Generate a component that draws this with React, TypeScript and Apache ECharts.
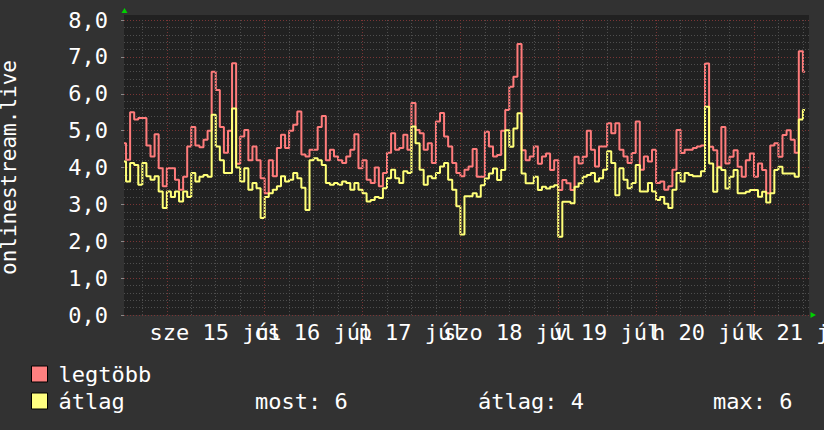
import React, { useEffect, useRef } from 'react';
import * as echarts from 'echarts';

// hourly samples, starting 13:30 on Tue 14 Jul
const maxValues = [
  4.66, 4.21, 5.5, 5.3, 5.34, 5.34, 4.6, 4.3, 4.9, 3.98, 3.49, 3.98,
  3.98, 3.67, 3.4, 3.75, 4.57, 5.1, 4.6, 4.55, 4.75, 5.0, 6.6, 6.1,
  5.1, 4.4, 5.0, 6.83, 4.1, 4.84, 5.02, 4.2, 4.57, 4.2, 3.71, 3.3,
  4.2, 3.76, 4.53, 4.89, 4.53, 5.0, 5.16, 5.52, 4.35, 4.3, 4.48, 4.48,
  5.1, 5.4, 4.2, 4.48, 4.3, 4.2, 4.12, 4.3, 4.48, 4.9, 3.98, 4.2,
  3.67, 3.58, 4.0, 3.49, 3.85, 4.4, 4.93, 4.48, 4.53, 4.89, 4.48, 5.75,
  5.02, 4.93, 4.48, 4.66, 4.12, 5.25, 5.48, 4.84, 4.57, 4.12, 3.85, 3.76,
  3.94, 4.03, 4.5, 3.75, 3.75, 4.97, 4.57, 4.3, 4.34, 5.0, 5.56, 6.19,
  6.46, 7.35, 4.47, 4.2, 4.3, 4.57, 4.1, 4.3, 4.38, 3.93, 4.2, 3.39,
  3.66, 3.57, 3.39, 4.29, 4.11, 4.29, 5.0, 4.48, 4.03, 4.57, 4.57, 5.2,
  4.93, 5.2, 4.48, 4.3, 4.12, 4.39, 5.25, 3.94, 4.3, 4.16, 4.48, 3.58,
  3.62, 3.4, 3.49, 3.94, 5.02, 4.39, 4.48, 4.48, 4.53, 4.57, 4.6, 6.82,
  4.56, 4.47, 4.02, 5.1, 4.11, 4.29, 4.47, 4.02, 3.75, 4.2, 4.38, 3.75,
  4.11, 3.93, 3.3, 4.6, 4.66, 4.29, 4.88, 5.01, 4.75, 4.4, 7.15, 6.6,
];

const avgValues = [
  4.16, 3.62, 4.12, 4.07, 3.53, 4.12, 3.76, 3.67, 3.76, 3.35, 2.9, 3.35,
  3.2, 3.35, 3.08, 3.35, 3.2, 3.85, 3.62, 3.75, 3.8, 3.75, 5.43, 4.57,
  4.2, 3.85, 3.85, 5.6, 4.0, 3.62, 3.98, 3.4, 3.58, 3.44, 2.63, 3.2,
  3.3, 3.4, 3.49, 3.76, 3.62, 3.67, 3.85, 3.71, 3.45, 2.85, 4.2, 4.25,
  4.2, 4.07, 3.58, 3.53, 3.58, 3.53, 3.62, 3.58, 3.4, 3.58, 3.4, 3.3,
  3.08, 3.12, 3.2, 3.17, 3.44, 3.71, 3.94, 3.71, 3.58, 3.9, 3.85, 5.11,
  4.66, 3.94, 3.53, 3.76, 3.71, 3.85, 4.03, 4.12, 3.67, 3.4, 2.95, 2.18,
  3.22, 3.22, 3.3, 3.21, 3.52, 3.7, 3.84, 3.97, 3.66, 3.93, 5.01, 4.56,
  5.06, 5.47, 3.84, 3.57, 3.57, 3.75, 3.39, 3.48, 3.43, 3.48, 3.52, 2.12,
  3.07, 3.07, 3.03, 3.48, 3.57, 3.75, 3.8, 3.85, 3.62, 3.71, 3.94, 4.44,
  4.12, 3.25, 3.98, 3.67, 3.44, 3.58, 4.07, 3.35, 3.35, 3.58, 3.35, 3.12,
  3.2, 3.02, 2.9, 3.4, 3.85, 3.62, 3.85, 3.8, 3.76, 3.76, 3.9, 5.65,
  4.11, 3.34, 4.0, 3.93, 3.43, 3.75, 3.93, 3.3, 3.3, 3.34, 3.39, 3.39,
  3.21, 3.34, 3.05, 3.3, 3.93, 4.02, 3.84, 3.84, 3.84, 3.75, 5.3, 5.56,
];

const dayLabels = ['sze 15 júl', 'cs 16 júl', 'p 17 júl', 'szo 18 júl', 'v 19 júl', 'h 20 júl', 'k 21 júl'];
const firstMidnight = 10.5; // hours after graph start
const spanHours = 168;
const seriesNames = ['legtöbb', 'átlag'];
const statLabels = ['most: 6', 'átlag: 4', 'max: 6'];
const yTitle = 'onlinestream.live';

const FONT = '"DejaVu Sans Mono", monospace';
const RED = '#ff7b7b';
const YELLOW = '#ffff78';
const MAJOR = '#7a3535';
const MINOR = '#4e4e4e';

export default function App() {
  const ref = useRef<HTMLDivElement>(null);
  useEffect(() => {
    if (!ref.current) return;
    const chart = echarts.init(ref.current, undefined, { renderer: 'svg' });
    const midnights = dayLabels.map((_, i) => firstMidnight + 24 * i);
    const noons = midnights.map((m) => m + 12);
    const quarters: number[] = [];
    for (let t = firstMidnight - 6; t < spanHours; t += 6) {
      if (midnights.indexOf(t) < 0) quarters.push(t);
    }
    const dotted = [1, 2];
    const labelAxis = (parity: number) => ({
      type: 'value', min: 0, max: spanHours, position: 'bottom', offset: 0,
      axisLine: { show: false }, axisTick: { show: false }, splitLine: { show: false },
      axisLabel: {
        customValues: noons.filter((_, i) => i % 2 === parity),
        formatter: (v: number) => dayLabels[noons.indexOf(v)] ?? '',
        color: '#fff', fontSize: 22, fontFamily: FONT, margin: 6,
        hideOverlap: false, showMinLabel: true, showMaxLabel: true,
      },
    });
    const option: any = {
      animation: false,
      backgroundColor: '#323232',
      grid: {
        left: 124, right: 15, top: 20, bottom: 115,
        outerBoundsMode: 'none', containLabel: false,
        show: true, backgroundColor: '#212121', borderWidth: 0,
      },
      legend: {
        orient: 'vertical', left: 31, top: 363, padding: 0,
        itemWidth: 16, itemHeight: 16, itemGap: 5,
        icon: 'rect', selectedMode: false,
        data: seriesNames,
        itemStyle: { borderColor: '#000', borderWidth: 1 },
        textStyle: { color: '#fff', fontSize: 22, fontFamily: FONT, padding: [0, 0, 0, 6] },
      },
      xAxis: [labelAxis(0), labelAxis(1)],
      yAxis: {
        type: 'value', min: 0, max: 8, interval: 1,
        name: yTitle, nameLocation: 'middle', nameGap: 105, nameRotate: 90,
        nameTextStyle: { color: '#fff', fontSize: 21, fontFamily: FONT },
        axisLine: { show: false },
        axisTick: { show: true, length: 3, lineStyle: { color: '#888' } },
        axisLabel: {
          formatter: (v: number) => v.toFixed(1).replace('.', ','),
          color: '#fff', fontSize: 22, fontFamily: FONT, margin: 16,
        },
        splitLine: { show: true, lineStyle: { color: MAJOR, type: dotted, width: 1 } },
        minorTick: { show: false, splitNumber: 5 },
        minorSplitLine: { show: true, lineStyle: { color: MINOR, type: dotted, width: 1 } },
      },
      series: [
        {
          name: 'grid', type: 'line', data: [], z: 1, silent: true,
          markLine: {
            silent: true, symbol: ['none', 'none'], label: { show: false }, animation: false,
            data: [
              ...quarters.map((x) => ({ xAxis: x, lineStyle: { color: MINOR, type: dotted, width: 1 } })),
              ...midnights.map((x) => ({ xAxis: x, lineStyle: { color: MAJOR, type: dotted, width: 1 } })),
            ],
          },
        },
        {
          name: seriesNames[0], type: 'line', step: 'middle', z: 3,
          data: maxValues.map((v, i) => [i, v]),
          symbol: 'none', showSymbol: false,
          lineStyle: { color: RED, width: 2 },
          itemStyle: { color: '#ff8080' },
        },
        {
          name: seriesNames[1], type: 'line', step: 'middle', z: 4,
          data: avgValues.map((v, i) => [i, v]),
          symbol: 'none', showSymbol: false,
          lineStyle: { color: YELLOW, width: 2 },
          itemStyle: { color: '#ffff80' },
        },
      ],
      graphic: [
        { type: 'rect', shape: { x: 124, y: 15, width: 685, height: 5 }, style: { fill: '#212121' }, z: -1 },
        { type: 'polygon', shape: { points: [[121.5, 13], [127.5, 13], [124.5, 8]] }, style: { fill: '#00d000' } },
        { type: 'polygon', shape: { points: [[810.5, 312], [810.5, 318], [816, 315]] }, style: { fill: '#00d000' } },
        ...statLabels.map((t, i) => ({
          type: 'text', x: [255, 478, 713][i], y: 401,
          style: { text: t, fill: '#fff', font: `22px ${FONT}`, verticalAlign: 'middle' },
        })),
      ],
    };
    chart.setOption(option);
    return () => chart.dispose();
  }, []);
  return <div ref={ref} style={{ position: 'fixed', left: 0, top: 0, width: 824, height: 430 }} />;
}
